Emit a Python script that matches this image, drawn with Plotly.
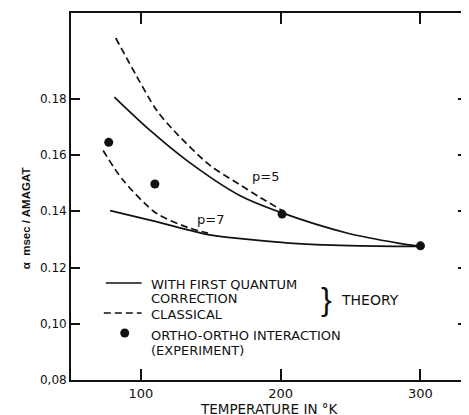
import plotly.graph_objects as go

# ---- data ----
t_p5_quantum = [81, 106, 133, 170, 200, 248, 284, 300]
a_p5_quantum = [0.1806, 0.169, 0.158, 0.1458, 0.1396, 0.1322, 0.1287, 0.1275]

t_p5_classical = [82, 97, 111, 123, 149, 170, 185, 201]
a_p5_classical = [0.2016, 0.188, 0.1761, 0.169, 0.1565, 0.1497, 0.1450, 0.1403]

t_p7_quantum = [78, 111, 149, 177, 206, 249, 300]
a_p7_quantum = [0.1402, 0.1363, 0.1316, 0.130, 0.1287, 0.1278, 0.1275]

t_p7_classical = [73, 87, 111, 135, 148]
a_p7_classical = [0.1616, 0.1512, 0.1393, 0.134, 0.1322]

t_experiment = [77, 110, 201, 300]
a_experiment = [0.1645, 0.1497, 0.139, 0.1277]

x_tick_vals = [100, 200, 300]
x_tick_text = ["100", "200", "300"]
y_tick_vals = [0.08, 0.10, 0.12, 0.14, 0.16, 0.18]
y_tick_text = ["0,08", "0,10", "0.12", "0.14", "0.16", "0.18"]

FONT = "DejaVu Sans"
BLACK = "#111111"

fig = go.Figure()

def line(t, a, dash):
    fig.add_trace(go.Scatter(
        x=t, y=a, mode="lines",
        line=dict(color=BLACK, width=1.7, dash=dash, shape="spline", smoothing=0.8),
        showlegend=False, hoverinfo="skip"))

line(t_p5_quantum, a_p5_quantum, "solid")
line(t_p5_classical, a_p5_classical, "7px,4px")
line(t_p7_quantum, a_p7_quantum, "solid")
line(t_p7_classical, a_p7_classical, "7px,4px")

fig.add_trace(go.Scatter(
    x=t_experiment, y=a_experiment, mode="markers",
    marker=dict(color=BLACK, size=9), showlegend=False, hoverinfo="skip"))

# curve labels
fig.add_annotation(x=189.3, y=0.1523, text="p=5", showarrow=False, xref="x", yref="y",
                   font=dict(family=FONT, size=13, color=BLACK))
fig.add_annotation(x=150.1, y=0.1372, text="p=7", showarrow=False, xref="x", yref="y",
                   font=dict(family=FONT, size=13, color=BLACK))

# ---- legend (paper coords; pixel positions in the 469x415 window) ----
def px_x(px):
    return (px - 71) / 398.0

def px_y(py):
    return (380 - py) / 367.0

fig.add_shape(type="line", xref="paper", yref="paper", x0=px_x(106), x1=px_x(142), y0=px_y(283), y1=px_y(283),
              line=dict(color=BLACK, width=1.7))
fig.add_shape(type="line", xref="paper", yref="paper", x0=px_x(104), x1=px_x(142), y0=px_y(313), y1=px_y(313),
              line=dict(color=BLACK, width=1.7, dash="7px,4px"))
fig.add_shape(type="circle", xref="paper", yref="paper", x0=px_x(120.5), x1=px_x(129.5), y0=px_y(328.5), y1=px_y(337.5),
              fillcolor=BLACK, line=dict(color=BLACK, width=0))

legend_texts = [
    ("WITH FIRST QUANTUM", 284),
    ("CORRECTION", 298),
    ("CLASSICAL", 314),
    ("ORTHO-ORTHO INTERACTION", 335),
    ("(EXPERIMENT)", 350),
]
for txt, py in legend_texts:
    fig.add_annotation(x=px_x(150), y=px_y(py), xref="paper", yref="paper", text=txt, showarrow=False,
                       xanchor="left", yanchor="middle", align="left", borderpad=0, height=13,
                       font=dict(family=FONT, size=13, color=BLACK))

fig.add_annotation(x=px_x(321), y=px_y(299), xref="paper", yref="paper", text="}", showarrow=False,
                   xanchor="left", yanchor="middle", borderpad=0,
                   font=dict(family="Liberation Sans", size=32, color=BLACK))
fig.add_annotation(x=px_x(341), y=px_y(300), xref="paper", yref="paper", text="THEORY", showarrow=False,
                   xanchor="left", yanchor="middle", borderpad=0,
                   font=dict(family=FONT, size=14, color=BLACK))

# axis titles
fig.add_annotation(x=px_x(270), y=px_y(408), xref="paper", yref="paper", text="TEMPERATURE IN °K",
                   showarrow=False, xanchor="center", yanchor="middle", borderpad=0, height=13,
                   font=dict(family=FONT, size=13.5, color=BLACK))
fig.add_annotation(x=px_x(26), y=px_y(218), xref="paper", yref="paper", text="<b>α  msec / AMAGAT</b>",
                   showarrow=False, xanchor="center", yanchor="middle", textangle=-90,
                   font=dict(family="Liberation Sans", size=11.5, color=BLACK))

# page body has an 8px margin, so the figure is 8px smaller than the window
fig.update_layout(
    width=461, height=407,
    margin=dict(l=63, r=0, t=5, b=35),
    paper_bgcolor="white", plot_bgcolor="white",
    font=dict(family=FONT, size=12, color=BLACK),
    xaxis=dict(
        range=[50, 333.3], tickvals=x_tick_vals, ticktext=x_tick_text,
        ticks="inside", ticklen=11, tickwidth=1.5, tickcolor=BLACK,
        showline=True, linecolor=BLACK, linewidth=1.8, mirror="ticks",
        showgrid=False, zeroline=False,
        tickfont=dict(family=FONT, size=13, color=BLACK),
    ),
    yaxis=dict(
        range=[0.08, 0.2105], tickvals=y_tick_vals, ticktext=y_tick_text,
        ticks="inside", ticklen=9, tickwidth=1.5, tickcolor=BLACK,
        showline=True, linecolor=BLACK, linewidth=1.8, mirror="ticks",
        showgrid=False, zeroline=False,
        tickfont=dict(family=FONT, size=12, color=BLACK),
    ),
)

fig.write_html("out.html")
